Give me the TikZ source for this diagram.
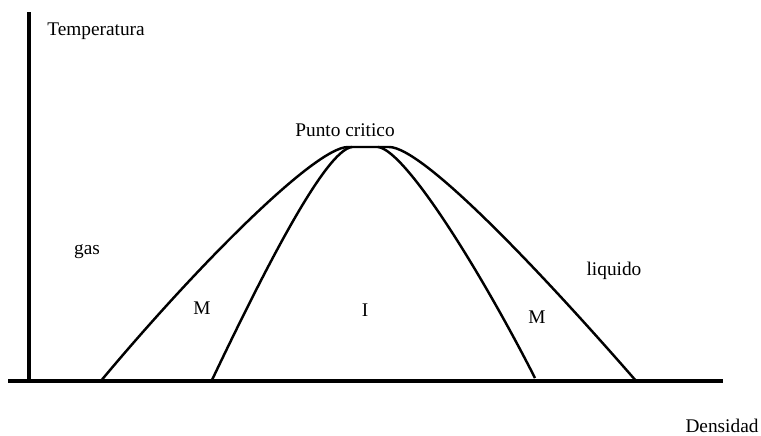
\documentclass[tikz,border=0pt]{standalone}
\usepackage{fontspec}
\setmainfont{Liberation Serif}
\usepackage{tikz}
\usetikzlibrary{calc}
\usepackage{xcolor}

\begin{document}
\begin{tikzpicture}[x=0.02cm, y=-0.02cm, line join=round,
    axis/.style={line width=2.2pt},
    curva/.style={line width=1.4pt},
    etiqueta/.style={font=\fontsize{11}{13}\selectfont, inner sep=0pt}]
    \useasboundingbox (0,0) rectangle (761,436);

    \coordinate (O) at (29,381);
    \coordinate (Ytop) at (29,12);
    \coordinate (Xend) at (723,381);
    \coordinate (Xstart) at (8,381);

    % ejes
    \draw[axis] (O) -- (Ytop);
    \draw[axis] (Xstart) -- (Xend);

    % curvas de coexistencia
    \coordinate (A) at (100,382);
    \coordinate (B) at (637,382);
    \coordinate (C) at (212,380);
    \coordinate (D) at (535,378);
    \coordinate (P1) at (348,147);
    \coordinate (P2) at (389,147);
    \coordinate (Q1) at (352,147);
    \coordinate (Q2) at (378,147);

    \draw[curva] (A) .. controls (195,268) and (315,147) .. (P1) -- (P2)
        .. controls (422,147) and (535,265) .. (B);
    \draw[curva] (C) .. controls (262,275) and (325,150) .. (Q1);
    \draw[curva] (Q2) .. controls (405,150) and (480,270) .. (D);

    \node[etiqueta] (temp) at (96,31) {Temperatura};
    \node[etiqueta] (punto) at (345,130) {Punto critico};
    \node[etiqueta] (gas) at (87,252) {gas};
    \node[etiqueta] (m1) at (202,308) {M};
    \node[etiqueta] (i) at (365,310) {I};
    \node[etiqueta] (m2) at (537,317) {M};
    \node[etiqueta] (liq) at (614,271) {liquido};
    \node[etiqueta] (dens) at (722,426) {Densidad};
\end{tikzpicture}
\end{document}
